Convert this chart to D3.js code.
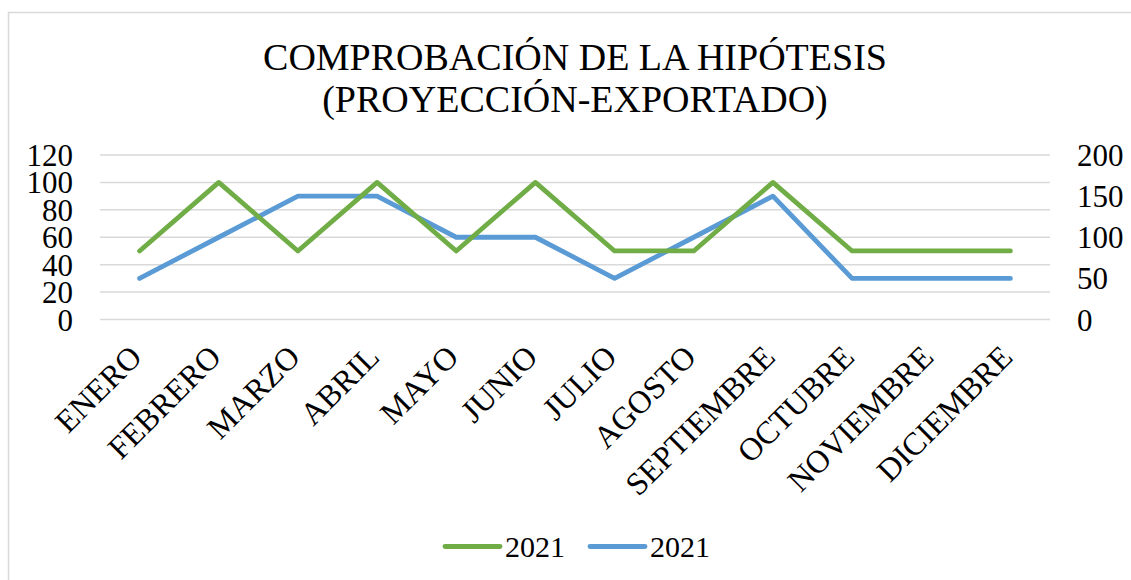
<!DOCTYPE html>
<html><head><meta charset="utf-8">
<script src="https://cdn.jsdelivr.net/npm/d3@7"></script>
<style>body{margin:0;background:#fff}svg{display:block}text{font-family:"Liberation Serif","Times New Roman",serif;fill:#000}</style>
</head><body><svg id="c" width="1131" height="580"></svg>
<script>
const months = ["ENERO","FEBRERO","MARZO","ABRIL","MAYO","JUNIO","JULIO","AGOSTO","SEPTIEMBRE","OCTUBRE","NOVIEMBRE","DICIEMBRE"];
const seriesGreen = [50,100,50,100,50,100,50,50,100,50,50,50];
const seriesBlue = [50,100,150,150,100,100,50,100,150,50,50,50];
const leftTicks = [0,20,40,60,80,100,120];
const rightTicks = [0,50,100,150,200];
const legendLabels = ["2021","2021"];
const titleLines = ["COMPROBACIÓN DE LA HIPÓTESIS","(PROYECCIÓN-EXPORTADO)"];
const green = "#70AD47", blue = "#5B9BD5";

const svg = d3.select("#c");
svg.append("rect").attr("x",8.5).attr("y",12.5).attr("width",1200).attr("height",700)
  .attr("fill","#fff").attr("stroke","#d9d9d9").attr("stroke-width",1.5);

const L = 100, R = 1050, T = 155, B = 319.5;
const x = d3.scaleBand().domain(months).range([L,R]);
const yL = d3.scaleLinear().domain([0,120]).range([B,T]);
const yR = d3.scaleLinear().domain([0,200]).range([B,T]);

// gridlines
svg.append("g").selectAll("line").data(leftTicks).join("line")
  .attr("x1",L).attr("x2",R).attr("y1",d=>yL(d)).attr("y2",d=>yL(d))
  .attr("stroke","#d9d9d9").attr("stroke-width",1.5);

// left axis
const gl = svg.append("g").attr("transform",`translate(${L},0)`)
  .call(d3.axisLeft(yL).tickValues(leftTicks).tickSize(0).tickPadding(27));
gl.select(".domain").remove();
gl.selectAll("text").style("font-size","31px").attr("dy","0.34em");

// right axis
const gr = svg.append("g").attr("transform",`translate(${R},0)`)
  .call(d3.axisRight(yR).tickValues(rightTicks).tickSize(0).tickPadding(27));
gr.select(".domain").remove();
gr.selectAll("text").style("font-size","31px").attr("dy","0.34em");

// category labels
svg.append("g").selectAll("text").data(months).join("text")
  .attr("transform",d=>`translate(${x(d)+x.bandwidth()/2+4},${359}) rotate(-45)`)
  .attr("text-anchor","end").style("font-size","32px").text(d=>d);

// lines
const cx = d=>x(d)+x.bandwidth()/2;
const lineL = d3.line().x((d,i)=>cx(months[i])).y(d=>yL(d));
const lineR = d3.line().x((d,i)=>cx(months[i])).y(d=>yR(d));
svg.append("path").datum(seriesBlue).attr("d",lineR).attr("fill","none")
  .attr("stroke",blue).attr("stroke-width",4.8).attr("stroke-linecap","round").attr("stroke-linejoin","round");
svg.append("path").datum(seriesGreen).attr("d",lineL).attr("fill","none")
  .attr("stroke",green).attr("stroke-width",4.8).attr("stroke-linecap","round").attr("stroke-linejoin","round");

// title
svg.append("g").selectAll("text").data(titleLines).join("text")
  .attr("x",575).attr("y",(d,i)=>70+i*42).attr("text-anchor","middle")
  .style("font-size","38px").text(d=>d);

// legend
const lg = svg.append("g");
[[green,445],[blue,590]].forEach(([c,lx],i)=>{
  lg.append("line").attr("x1",lx).attr("x2",lx+55).attr("y1",546.5).attr("y2",546.5)
    .attr("stroke",c).attr("stroke-width",4.8).attr("stroke-linecap","round");
  lg.append("text").attr("x",lx+60).attr("y",546.5).attr("dy","0.34em")
    .style("font-size","30px").text(legendLabels[i]);
});
</script></body></html>
